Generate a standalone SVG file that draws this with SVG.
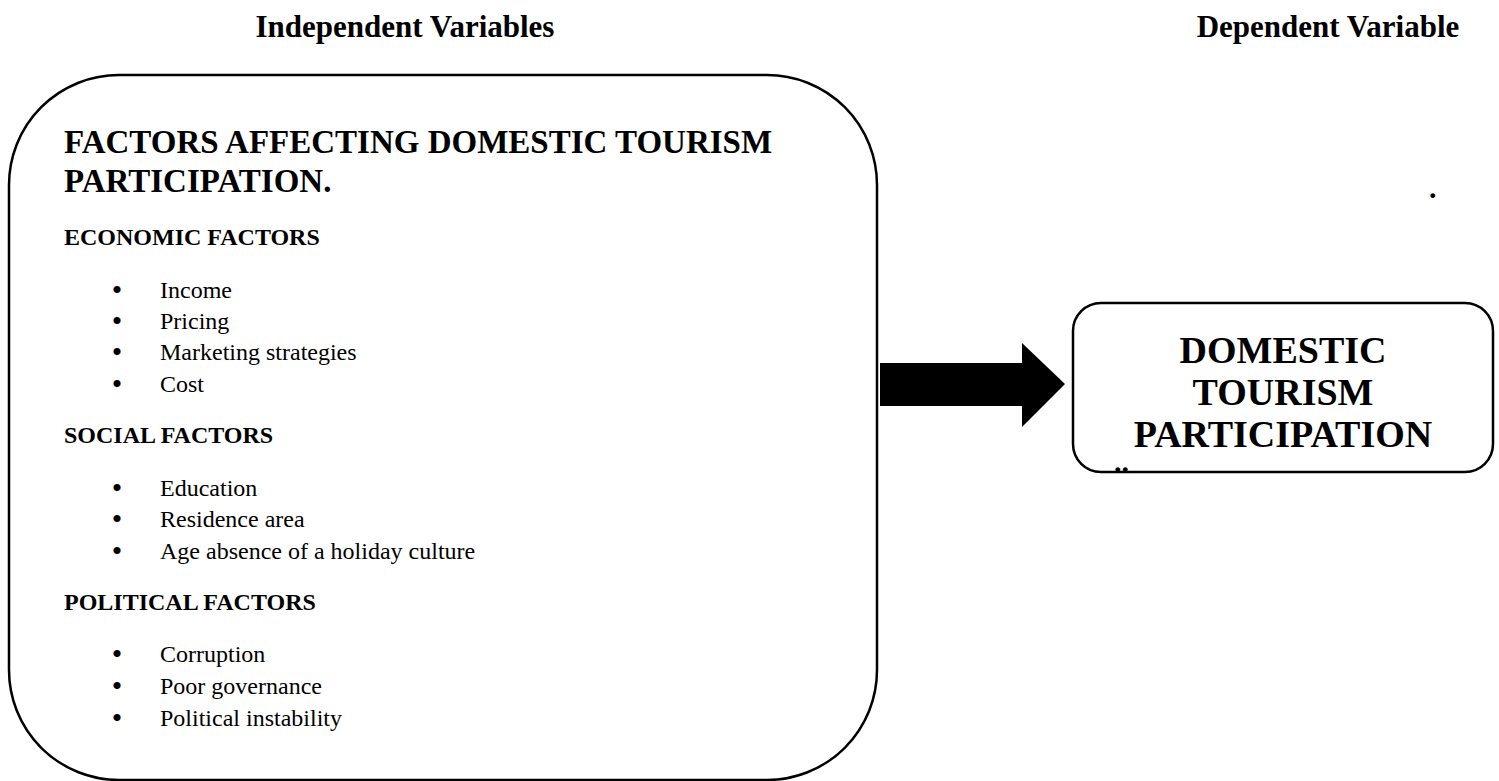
<svg xmlns="http://www.w3.org/2000/svg" width="1499" height="781" viewBox="0 0 1499 781">
<style>
text{font-family:"Liberation Serif","Times New Roman",serif;fill:#000}
.hdr{font-size:31px;font-weight:bold;text-anchor:middle}
.ttl{font-size:33px;font-weight:bold}
.sec{font-size:24px;font-weight:bold}
.itm{font-size:24px}
.bul{font-size:30px;text-anchor:middle}
.big{font-size:38px;font-weight:bold;text-anchor:middle}
.dot{font-size:30px;font-weight:bold}
.box{fill:#fff;stroke:#000;stroke-width:2.5}
</style>
<rect width="1499" height="781" fill="#fff"/>
<g id="headers">
<text class="hdr" x="405" y="37">Independent Variables</text>
<text class="hdr" x="1328" y="37">Dependent Variable</text>
</g>
<g id="factors">
<rect class="box" x="9" y="75" width="868" height="705" rx="110" ry="110"/>
<text class="ttl" x="64" y="153">FACTORS AFFECTING DOMESTIC TOURISM</text>
<text class="ttl" x="64" y="192">PARTICIPATION.</text>
<text class="sec" x="64" y="245">ECONOMIC FACTORS</text>
<text class="bul" x="117" y="300">•</text><text class="itm" x="160" y="298">Income</text>
<text class="bul" x="117" y="331">•</text><text class="itm" x="160" y="329">Pricing</text>
<text class="bul" x="117" y="362">•</text><text class="itm" x="160" y="360">Marketing strategies</text>
<text class="bul" x="117" y="394">•</text><text class="itm" x="160" y="392">Cost</text>
<text class="sec" x="64" y="443">SOCIAL FACTORS</text>
<text class="bul" x="117" y="498">•</text><text class="itm" x="160" y="496">Education</text>
<text class="bul" x="117" y="529">•</text><text class="itm" x="160" y="527">Residence area</text>
<text class="bul" x="117" y="561">•</text><text class="itm" x="160" y="559">Age absence of a holiday culture</text>
<text class="sec" x="64" y="610">POLITICAL FACTORS</text>
<text class="bul" x="117" y="664">•</text><text class="itm" x="160" y="662">Corruption</text>
<text class="bul" x="117" y="696">•</text><text class="itm" x="160" y="694">Poor governance</text>
<text class="bul" x="117" y="728">•</text><text class="itm" x="160" y="726">Political instability</text>
</g>
<g id="connectors">
<polygon points="880,363 1022,363 1022,343 1065,384 1022,427 1022,406 880,406" fill="#000"/>
</g>
<g id="participation">
<rect class="box" x="1073" y="303" width="420" height="169" rx="28" ry="28"/>
<text class="big" x="1283" y="363">DOMESTIC</text>
<text class="big" x="1283" y="405">TOURISM</text>
<text class="big" x="1283" y="447">PARTICIPATION</text>
<text class="dot" x="1114" y="472">..</text>
</g>
<g id="mark">
<text class="dot" x="1429" y="198">.</text>
</g>
</svg>
